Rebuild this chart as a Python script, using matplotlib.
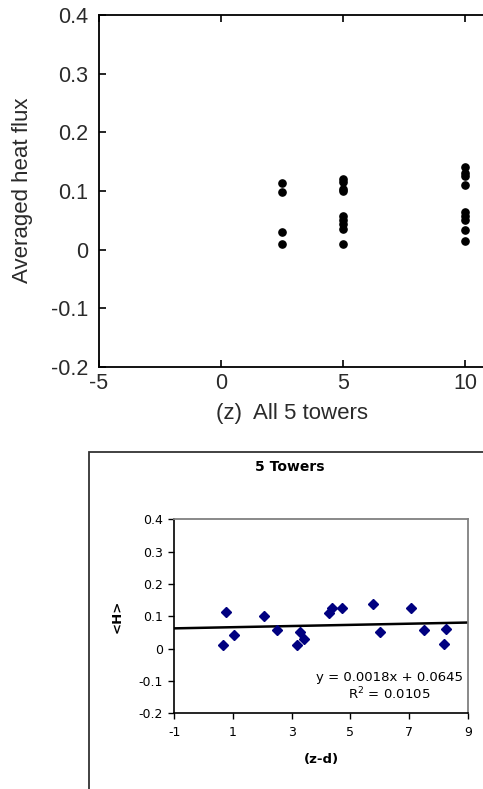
import matplotlib
matplotlib.use("Agg")
import matplotlib.pyplot as plt
from matplotlib.patches import Rectangle

# Averaged heat flux at each measurement height (all 5 towers)
heights_z = [2.5, 2.5, 2.5, 2.5,
             5, 5, 5, 5, 5, 5, 5, 5, 5,
             10, 10, 10, 10, 10, 10, 10, 10, 10]
flux_z = [0.114, 0.098, 0.030, 0.010,
          0.121, 0.115, 0.104, 0.100, 0.058, 0.051, 0.043, 0.035, 0.010,
          0.141, 0.131, 0.125, 0.111, 0.064, 0.057, 0.050, 0.033, 0.014]

# <H> against displacement-corrected height (z-d)
z_minus_d = [0.67, 0.76, 1.02, 2.07, 2.50, 3.18, 3.28, 3.43, 4.26, 4.37,
             4.73, 5.77, 6.01, 7.07, 7.50, 8.18, 8.27]
flux_zd = [0.010, 0.113, 0.042, 0.101, 0.057, 0.011, 0.050, 0.030, 0.109,
           0.126, 0.126, 0.137, 0.050, 0.126, 0.058, 0.014, 0.062]

# Linear fit reported on the chart
slope, intercept, r2 = 0.0018, 0.0645, 0.0105

top_xticks = [-5, 0, 5, 10, 15]
top_yticks = [-0.2, -0.1, 0, 0.1, 0.2, 0.3, 0.4]
bot_xticks = [-1, 1, 3, 5, 7, 9]
bot_yticks = [-0.2, -0.1, 0, 0.1, 0.2, 0.3, 0.4]

W, H = 483, 789
plt.rcParams['font.family'] = ['DejaVu Sans']
fig = plt.figure(figsize=(W / 100, H / 100), dpi=100)


def box(x0, y0, x1, y1):
    """Convert pixel box (left, top, right, bottom) to figure fractions."""
    return [x0 / W, 1 - y1 / H, (x1 - x0) / W, (y1 - y0) / H]


def fmt(v):
    return f"{v:g}"


# ---------------- upper panel (MATLAB style) ----------------
TXT = '#2a2a2a'
TOPFONT = ['Liberation Sans', 'DejaVu Sans']
ax1 = fig.add_axes(box(99, 15, 587, 367))
ax1.plot(heights_z, flux_z, 'o', color='black', ms=5.2, mec='black')
ax1.set_xlim(-5, 15)
ax1.set_ylim(-0.2, 0.4)
ax1.set_xticks(top_xticks)
ax1.set_yticks(top_yticks)
ax1.set_xticklabels([fmt(v) for v in top_xticks], family=TOPFONT)
ax1.set_yticklabels([fmt(v) for v in top_yticks], family=TOPFONT)
ax1.tick_params(direction='in', length=5, width=1.2, top=True, right=True,
                labelsize=15.5, labelcolor=TXT, color='black')
ax1.tick_params(axis='x', pad=4)
ax1.tick_params(axis='y', pad=8)
for sp in ax1.spines.values():
    sp.set_linewidth(1.3)
    sp.set_color('black')
ax1.set_ylabel('Averaged heat flux', fontsize=16, color=TXT, family=TOPFONT,
               va='center')
ax1.yaxis.set_label_coords((23 - 99) / 488, (367 - 190) / 352)
fig.text(292 / W, 1 - 413 / H, '(z)  All 5 towers', fontsize=16,
         color=TXT, ha='center', va='center', family=TOPFONT)

# ---------------- lower panel (spreadsheet style) ----------------
fig.patches.append(Rectangle((89 / W, -0.05), (491 - 89) / W,
                             1.05 - 452 / H, transform=fig.transFigure,
                             fill=False, edgecolor='#333333', lw=1.3))

ax2 = fig.add_axes(box(174.3, 519.3, 467.7, 713.3))
ax2.set_xlim(-1, 9)
ax2.set_ylim(-0.2, 0.4)
xs = [-1, 9]
ax2.plot(xs, [slope * x + intercept for x in xs], color='black', lw=1.8,
         zorder=2)
ax2.plot(z_minus_d, flux_zd, 'D', color='#000080', ms=5.2, mec='#000080',
         zorder=3)
ax2.set_xticks(bot_xticks)
ax2.set_yticks(bot_yticks)
ax2.set_xticklabels([fmt(v) for v in bot_xticks])
ax2.set_yticklabels([fmt(v) for v in bot_yticks])
ax2.tick_params(direction='out', length=4, width=1.0, labelsize=9,
                color='black', labelcolor='black')
ax2.tick_params(axis='x', pad=5)
ax2.tick_params(axis='y', pad=4)
ax2.spines['left'].set_color('black')
ax2.spines['bottom'].set_color('black')
ax2.spines['left'].set_linewidth(1.2)
ax2.spines['bottom'].set_linewidth(1.2)
ax2.spines['top'].set_color('#808080')
ax2.spines['right'].set_color('#808080')
ax2.spines['top'].set_linewidth(1.3)
ax2.spines['right'].set_linewidth(1.3)

ax2.text(6.33, -0.088, f'y = {slope:.4f}x + {intercept:.4f}', fontsize=9.5,
         ha='center', va='center')
ax2.text(6.33, -0.1415, f'R$^2$ = {r2:.4f}', fontsize=9.5,
         ha='center', va='center')

fig.text(290 / W, 1 - 467 / H, '5 Towers', fontsize=10, fontweight='bold',
         ha='center', va='center')
fig.text(117 / W, 1 - 616 / H, '<H>', fontsize=9.5, fontweight='bold',
         rotation=90, ha='center', va='center')
fig.text(321 / W, 1 - 760 / H, '(z-d)', fontsize=9.5, fontweight='bold',
         ha='center', va='center')

fig.savefig('out.png', dpi=100)
